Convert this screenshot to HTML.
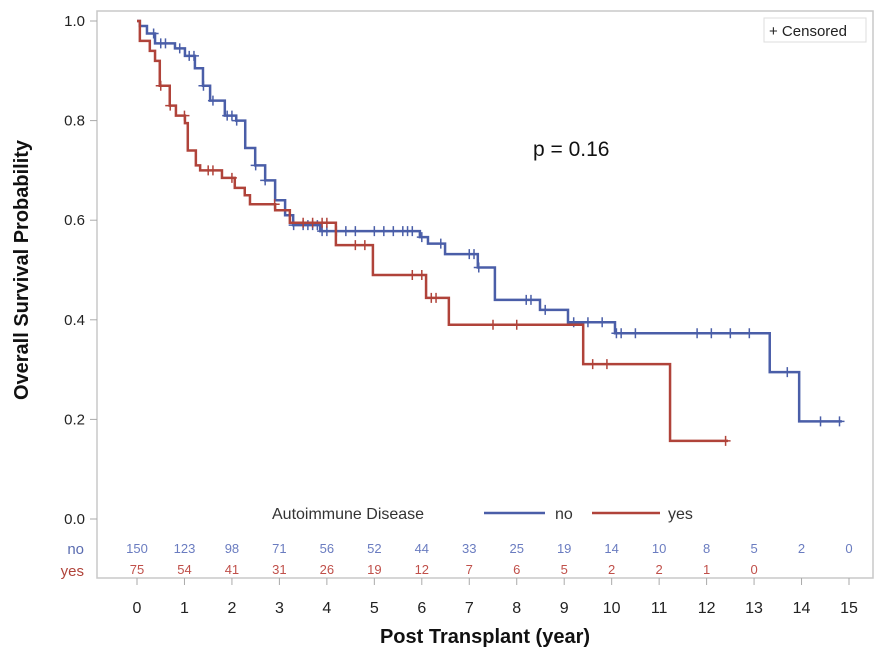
<!DOCTYPE html>
<html><head><meta charset="utf-8"><style>
body{margin:0;background:#fff;width:883px;height:664px;overflow:hidden}
svg{font-family:"Liberation Sans",Arial,sans-serif}
</style></head><body>
<svg id="chart" width="883" height="664">
<rect x="97" y="11" width="776" height="567" fill="#fff" stroke="#c8c8c8" stroke-width="1.5"/>
<g id="yaxis"></g>
<g id="xaxis"></g>
<g id="series"></g>
<g id="risk"></g>
<text x="28" y="270" transform="rotate(-90 28 270)" text-anchor="middle" font-size="20" font-weight="bold" fill="#111">Overall Survival Probability</text>
<text x="485" y="643" text-anchor="middle" font-size="20" font-weight="bold" fill="#111">Post Transplant (year)</text>
<text x="533" y="156" font-size="21" fill="#111">p = 0.16</text>
<g>
<rect x="764" y="18" width="102" height="24" fill="#fff" stroke="#ddd"/>
<text x="769" y="36" font-size="15" fill="#222">+ Censored</text>
</g>
<g>
<text x="272" y="519" font-size="16" fill="#333">Autoimmune Disease</text>
<line x1="484" y1="513" x2="545" y2="513" stroke="#4a5ea8" stroke-width="2.5"/>
<text x="555" y="519" font-size="16" fill="#333">no</text>
<line x1="592" y1="513" x2="660" y2="513" stroke="#b0433a" stroke-width="2.5"/>
<text x="668" y="519" font-size="16" fill="#333">yes</text>
</g>
</svg>
<script>
const yTicks=[0.0,0.2,0.4,0.6,0.8,1.0];
const xTicks=[0,1,2,3,4,5,6,7,8,9,10,11,12,13,14,15];
const noTimes=[0,0.06,0.21,0.38,0.80,1.01,1.22,1.39,1.54,1.85,2.09,2.28,2.49,2.70,2.91,3.12,3.29,3.86,5.96,6.13,6.49,7.18,7.54,8.49,9.08,10.07,13.33,13.95];
const noSurv=[1.0,0.99,0.975,0.955,0.945,0.93,0.905,0.87,0.84,0.81,0.80,0.745,0.71,0.68,0.64,0.61,0.59,0.578,0.566,0.553,0.532,0.505,0.44,0.42,0.395,0.373,0.295,0.196];
const noEnd=14.85;
const noCensor=[0.35,0.5,0.6,0.9,1.1,1.2,1.4,1.6,1.9,2.0,2.1,2.5,2.7,3.3,3.5,3.6,3.7,3.8,3.9,4.0,4.2,4.4,4.6,5.0,5.2,5.4,5.6,5.7,5.8,6.0,6.4,7.0,7.1,7.2,8.2,8.3,8.6,9.2,9.5,9.8,10.1,10.2,10.5,11.8,12.1,12.5,12.9,13.7,14.4,14.8];
const yesTimes=[0,0.06,0.27,0.38,0.48,0.69,0.82,1.01,1.07,1.24,1.33,1.79,2.06,2.27,2.38,2.91,3.22,4.19,4.97,6.09,6.57,9.40,11.23];
const yesSurv=[1.0,0.96,0.94,0.92,0.87,0.83,0.81,0.795,0.74,0.71,0.70,0.685,0.665,0.65,0.632,0.62,0.595,0.55,0.49,0.444,0.39,0.311,0.157];
const yesEnd=12.45;
const yesCensor=[0.5,0.7,1.0,1.5,1.6,2.0,2.9,3.5,3.7,3.9,4.0,4.6,4.8,5.8,6.0,6.2,6.3,7.5,8.0,9.6,9.9,12.4];
const riskNo=[150,123,98,71,56,52,44,33,25,19,14,10,8,5,2,0];
const riskYes=[75,54,41,31,26,19,12,7,6,5,2,2,1,0];

const NS="http://www.w3.org/2000/svg";
const X=t=>137+t*(849-137)/15;
const Y=s=>519-s*498;
function mk(tag,attrs,parent,txt){const e=document.createElementNS(NS,tag);for(const k in attrs)e.setAttribute(k,attrs[k]);if(txt!==undefined)e.textContent=txt;parent.appendChild(e);return e;}
const ya=document.getElementById('yaxis'),xa=document.getElementById('xaxis'),sg=document.getElementById('series'),rk=document.getElementById('risk');
yTicks.forEach(v=>{
  const l=mk('line',{x1:90,x2:97,y1:Y(v),y2:Y(v),stroke:'#aaa'},ya);
  
  
  const t=mk('text',{x:85,y:Y(v)+5,'text-anchor':'end','font-size':15,fill:'#222'},ya,v.toFixed(1));
  
  
});
xTicks.forEach(v=>{
  const l=mk('line',{x1:X(v),x2:X(v),y1:578,y2:585,stroke:'#aaa'},xa);
  
  
  const t=mk('text',{x:X(v),y:613,'text-anchor':'middle','font-size':16,fill:'#222'},xa,String(v));
  
  
});
function stepAt(times,surv,t){let s=surv[0];for(let i=0;i<times.length;i++){if(times[i]<=t)s=surv[i];}return s;}
function drawKM(times,surv,end,cens,color,name){
  let d='M'+X(times[0])+' '+Y(surv[0]);
  for(let i=1;i<times.length;i++){d+=' H'+X(times[i])+' V'+Y(surv[i]);}
  d+=' H'+X(end);
  const p=mk('path',{d:d,fill:'none',stroke:color,'stroke-width':2.5},sg);
  
  
  cens.forEach(c=>{
    const y=Y(stepAt(times,surv,c)),x=X(c);
    const m=mk('path',{d:'M'+(x-5)+' '+y+' H'+(x+5)+' M'+x+' '+(y-5)+' V'+(y+5),stroke:color,'stroke-width':1.5,fill:'none'},sg);
    
    
  });
}
drawKM(noTimes,noSurv,noEnd,noCensor,'#4a5ea8','no');
drawKM(yesTimes,yesSurv,yesEnd,yesCensor,'#b0433a','yes');
let lab=mk('text',{x:84,y:554,'text-anchor':'end','font-size':15,fill:'#5a6cb0'},rk,'no');


lab=mk('text',{x:84,y:576,'text-anchor':'end','font-size':15,fill:'#b0433a'},rk,'yes');


riskNo.forEach((v,i)=>{
  const t=mk('text',{x:X(xTicks[i]),y:553,'text-anchor':'middle','font-size':13,fill:'#6a7cc0'},rk,String(v));
  
  
});
riskYes.forEach((v,i)=>{
  const t=mk('text',{x:X(xTicks[i]),y:574,'text-anchor':'middle','font-size':13,fill:'#c0504a'},rk,String(v));
  
  
});
</script>
</body></html>
